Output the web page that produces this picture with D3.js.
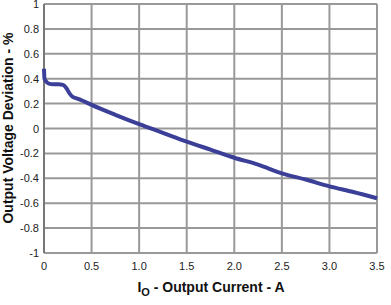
<!DOCTYPE html>
<html>
<head>
<meta charset="utf-8">
<script src="https://cdn.jsdelivr.net/npm/d3@7"></script>
<style>
  body { margin: 0; background: #fff; }
  svg { font-family: "Liberation Sans", Arial, sans-serif; }
</style>
</head>
<body>
<svg id="chart" width="391" height="305"></svg>
<script>
// output current (A) and deviation (%)
const current = [0, 0.005, 0.02, 0.05, 0.1, 0.15, 0.2, 0.23, 0.27, 0.3, 0.35, 0.4, 0.5, 0.75, 1.0, 1.25, 1.5, 1.75, 2.0, 2.25, 2.5, 2.75, 3.0, 3.25, 3.5];
const deviation = [0.48, 0.40, 0.38, 0.36, 0.355, 0.355, 0.35, 0.33, 0.28, 0.255, 0.24, 0.225, 0.19, 0.11, 0.035, -0.035, -0.105, -0.17, -0.235, -0.29, -0.36, -0.41, -0.465, -0.51, -0.56];
const xTicks = [0, 0.5, 1.0, 1.5, 2.0, 2.5, 3.0, 3.5];
const xTickLabels = ["0", "0.5", "1.0", "1.5", "2.0", "2.5", "3.0", "3.5"];
const yTicks = [1, 0.8, 0.6, 0.4, 0.2, 0, -0.2, -0.4, -0.6, -0.8, -1];
const yTickLabels = ["1", "0.8", "0.6", "0.4", "0.2", "0", "-0.2", "-0.4", "-0.6", "-0.8", "-1"];

const svg = d3.select("#chart");
const x = d3.scaleLinear().domain([0, 3.5]).range([44, 377]);
const y = d3.scaleLinear().domain([-1, 1]).range([253, 4]);

// grid
svg.append("g").selectAll("line").data(xTicks).join("line")
  .attr("x1", d => x(d)).attr("x2", d => x(d))
  .attr("y1", y(1)).attr("y2", y(-1))
  .attr("stroke", "#999").attr("stroke-width", 2);
svg.append("g").selectAll("line").data(yTicks).join("line")
  .attr("x1", x(0)).attr("x2", x(3.5))
  .attr("y1", d => y(d)).attr("y2", d => y(d))
  .attr("stroke", "#999").attr("stroke-width", 2);

// left axis line
svg.append("line")
  .attr("x1", x(0)).attr("x2", x(0)).attr("y1", y(1)).attr("y2", y(-1))
  .attr("stroke", "#777").attr("stroke-width", 2);

// tick labels
svg.append("g").selectAll("text").data(yTicks).join("text")
  .attr("x", 39).attr("y", d => y(d) + 4)
  .attr("text-anchor", "end").attr("font-size", 11).attr("fill", "#222")
  .text((d, i) => yTickLabels[i]);
svg.append("g").selectAll("text").data(xTicks).join("text")
  .attr("x", d => x(d)).attr("y", 270)
  .attr("text-anchor", "middle").attr("font-size", 11).attr("fill", "#222")
  .text((d, i) => xTickLabels[i]);

// curve
const pts = current.map((c, i) => [c, deviation[i]]);
svg.append("path")
  .datum(pts)
  .attr("fill", "none")
  .attr("stroke", "#3b3f98")
  .attr("stroke-width", 4)
  .attr("stroke-linejoin", "round")
  .attr("d", d3.line().x(d => x(d[0])).y(d => y(d[1])).curve(d3.curveMonotoneX));

// axis titles
const xt = svg.append("text")
  .attr("x", 211).attr("y", 292)
  .attr("text-anchor", "middle").attr("font-size", 14).attr("font-weight", "bold").attr("fill", "#111");
xt.append("tspan").text("I");
xt.append("tspan").attr("font-size", 11).attr("dy", 4).text("O");
xt.append("tspan").attr("dy", -4).text(" - Output Current - A");

svg.append("text")
  .attr("transform", "translate(13,128) rotate(-90)")
  .attr("text-anchor", "middle").attr("font-size", 14).attr("font-weight", "bold").attr("fill", "#111")
  .text("Output Voltage Deviation - %");
</script>
</body>
</html>
